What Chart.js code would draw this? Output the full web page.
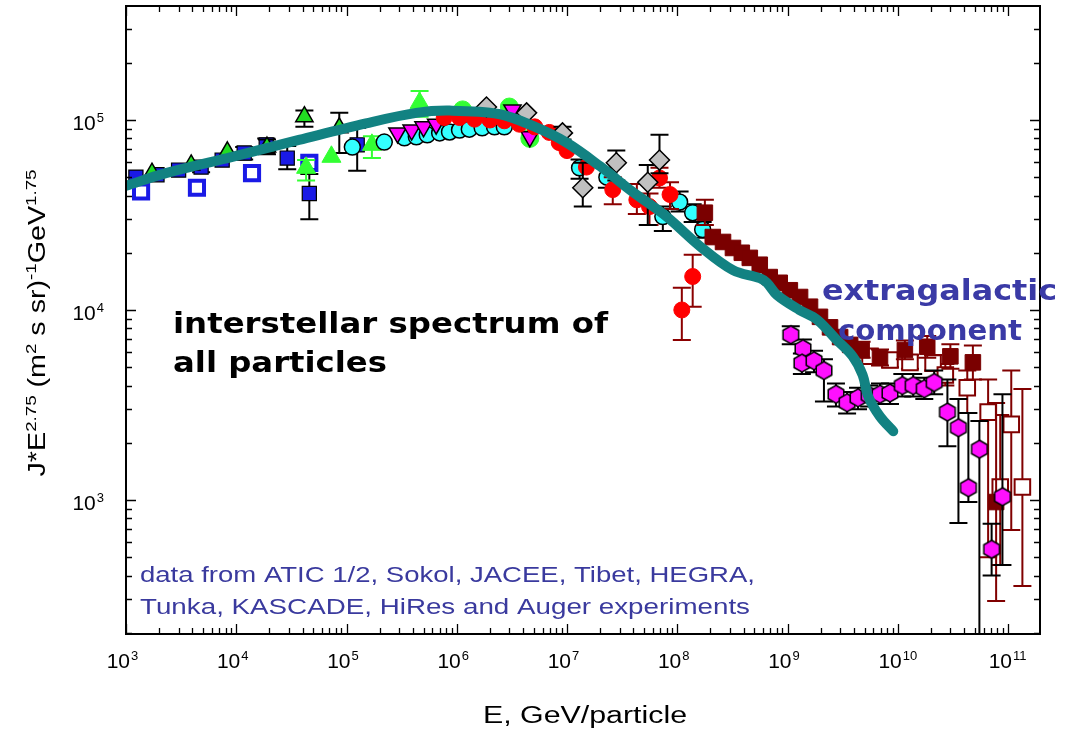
<!DOCTYPE html>
<html>
<head>
<meta charset="utf-8">
<script src="https://cdn.jsdelivr.net/npm/chart.js@4.4.0/dist/chart.umd.min.js"></script>
<style>body{margin:0;background:#fff}</style>
</head>
<body>
<canvas id="c" width="1077" height="731"></canvas>
<script>
/// axis ranges ///
const X_MIN = 1e3, X_MAX = 1.95e11, Y_MIN = 197, Y_MAX = 3.98e5
const xTickExp = [3, 4, 5, 6, 7, 8, 9, 10, 11]
const yTickExp = [3, 4, 5]

/// model curve (teal) ///
const modelE = [1e3, 2.3e3, 9.2e3, 3.7e4, 1.5e5, 4.3e5, 8.6e5, 2.4e6, 4.9e6, 9.9e6, 2.0e7, 3.9e7, 8.0e7, 1.6e8, 3.2e8, 5.6e8, 6.5e8, 8.0e8, 1.28e9, 1.85e9, 2.8e9, 3.9e9, 4.8e9, 5.4e9, 6.9e9, 9.1e9]
const modelJ = [4.5e4, 5.25e4, 6.4e4, 7.85e4, 9.6e4, 1.09e5, 1.12e5, 1.075e5, 9.3e4, 7.6e4, 5.7e4, 4.2e4, 3.1e4, 2.17e4, 1.62e4, 1.47e4, 1.39e4, 1.2e4, 1.0e4, 8.9e3, 6.95e3, 5.7e3, 4.55e3, 3.5e3, 2.75e3, 2.3e3]

/// ATIC filled blue squares ///
const aticE = [1.23e3, 1.91e3, 3.0e3, 4.8e3, 7.45e3, 1.18e4, 1.87e4, 2.9e4, 4.6e4, 1.25e5]
const aticJ = [5.0e4, 5.15e4, 5.45e4, 5.65e4, 6.15e4, 6.7e4, 7.4e4, 6.3e4, 4.1e4, 7.4e4]
const aticLo = [null, null, null, 5.3e4, null, 6.2e4, 6.7e4, 5.5e4, 3.0e4, 5.4e4]
const aticHi = [null, null, null, 6.0e4, null, 7.2e4, 8.0e4, 7.3e4, 5.2e4, 9.1e4]

/// ATIC open blue squares ///
const atic2E = [1.37e3, 4.4e3, 1.39e4, 4.6e4]
const atic2J = [4.2e4, 4.4e4, 5.25e4, 5.95e4]

/// Sokol (green, black edge) ///
const sokolE = [1.72e3, 3.9e3, 8.3e3, 1.9e4, 4.15e4, 8.6e4]
const sokolJ = [5.25e4, 5.8e4, 6.8e4, 7.2e4, 1.04e5, 9.1e4]
const sokolLo = [null, null, null, 6.6e4, 9.2e4, 6.7e4]
const sokolHi = [null, null, null, 7.9e4, 1.12e5, 1.09e5]

/// JACEE (light green) ///
const jaceeE = [4.3e4, 7.3e4, 1.7e5, 4.6e5]
const jaceeJ = [5.6e4, 6.4e4, 7.4e4, 1.23e5]
const jaceeLo = [4.8e4, null, 6.3e4, 1.04e5]
const jaceeHi = [6.15e4, null, 8.2e4, 1.42e5]

const greenE = [1.13e6, 3.0e6, 4.6e6]
const greenJ = [1.13e5, 1.17e5, 8.0e4]

/// Tibet (magenta down triangles) ///
const tibetE = [2.9e5, 3.9e5, 5.0e5, 6.5e5, 3.2e6, 4.6e6]
const tibetJ = [8.55e4, 8.85e4, 9.2e4, 9.5e4, 1.13e5, 8.15e4]

/// KASCADE (cyan) ///
const kascE = [1.13e5, 2.2e5, 3.35e5, 4.3e5, 5.4e5, 7.0e5, 8.6e5, 1.06e6, 1.3e6, 1.7e6, 2.2e6, 2.7e6, 1.3e7, 2.3e7, 7.4e7, 1.05e8, 1.38e8, 1.7e8]
const kascJ = [7.2e4, 7.65e4, 8.05e4, 8.15e4, 8.35e4, 8.55e4, 8.65e4, 8.85e4, 8.95e4, 9.1e4, 9.2e4, 9.2e4, 5.6e4, 5.0e4, 3.1e4, 3.7e4, 3.25e4, 2.65e4]
const kascLo = [null, null, null, null, null, null, null, null, null, null, null, null, 4.9e4, 4.4e4, 2.6e4, 3.3e4, 2.9e4, 2.4e4]
const kascHi = [null, null, null, null, null, null, null, null, null, null, null, null, 6.2e4, 5.6e4, 3.5e4, 4.2e4, 3.6e4, 2.9e4]

/// HEGRA / red ///
const hegraE = [7.7e5, 1.06e6, 1.45e6, 2.0e6, 2.7e6, 3.7e6, 5.1e6, 6.9e6, 8.5e6, 1.0e7, 1.5e7, 2.6e7, 4.3e7, 5.6e7, 6.9e7, 8.6e7, 1.1e8, 1.38e8]
const hegraJ = [1.03e5, 1.03e5, 1.01e5, 1.0e5, 9.9e4, 9.5e4, 9.2e4, 8.6e4, 7.6e4, 6.9e4, 5.65e4, 4.3e4, 3.8e4, 3.5e4, 4.95e4, 4.05e4, 1.0e4, 1.5e4]
const hegraLo = [null, null, null, null, null, null, null, null, null, null, null, 3.6e4, 3.2e4, 2.8e4, 4.4e4, 3.4e4, 6.95e3, 1.04e4]
const hegraHi = [null, null, null, null, null, null, null, null, null, null, null, 5.0e4, 4.6e4, 4.1e4, 5.6e4, 4.7e4, 1.31e4, 1.95e4]

/// Tunka (grey diamonds) ///
const tunkaE = [1.86e6, 4.3e6, 9.1e6, 1.39e7, 2.8e7, 5.4e7, 6.9e7]
const tunkaJ = [1.17e5, 1.09e5, 8.55e4, 4.4e4, 5.95e4, 4.7e4, 6.15e4]
const tunkaLo = [null, null, 7.9e4, 3.5e4, 4.8e4, 2.8e4, 5.25e4]
const tunkaHi = [null, null, 9.2e4, 5.95e4, 6.9e4, 5.8e4, 8.35e4]

/// dark red filled squares ///
const yakE = [1.78e8, 2.1e8, 2.6e8, 3.2e8, 3.85e8, 4.55e8, 5.6e8, 6.9e8, 8.5e8, 1.05e9, 1.3e9, 1.6e9, 1.97e9, 2.43e9, 3.0e9, 3.7e9, 4.7e9, 6.9e9, 1.16e10, 1.85e10, 3.0e10, 4.8e10, 7.8e10]
const yakJ = [3.25e4, 2.42e4, 2.28e4, 2.12e4, 2.0e4, 1.88e4, 1.73e4, 1.49e4, 1.39e4, 1.27e4, 1.17e4, 1.04e4, 9.2e3, 8.1e3, 7.2e3, 6.55e3, 6.15e3, 5.6e3, 6.15e3, 6.4e3, 5.7e3, 5.3e3, 975]
const yakLo = [2.8e4, null, null, null, null, null, null, null, null, null, null, null, null, null, null, null, 5.6e3, 5.1e3, 5.5e3, 5.6e3, 4.9e3, 4.3e3, 294]
const yakHi = [3.8e4, null, null, null, null, null, null, null, null, null, null, null, null, null, null, null, 6.8e3, 6.2e3, 6.9e3, 7.3e3, 6.6e3, 6.5e3, 3.24e3]

/// Auger (open dark red squares) ///
const augerE = [5.6e9, 8.5e9, 1.29e10, 2.09e10, 2.7e10, 4.27e10, 6.6e10, 1.07e11, 8.5e10, 1.35e11]
const augerJ = [5.7e3, 5.45e3, 5.3e3, 5.25e3, 4.55e3, 3.9e3, 2.9e3, 2.5e3, 1.17e3, 1.17e3]
const augerLo = [5.2e3, 5.0e3, 4.9e3, 4.8e3, 4.0e3, 2.87e3, 500, 695, 455, 352]
const augerHi = [6.2e3, 5.9e3, 5.8e3, 5.8e3, 5.2e3, 4.8e3, 4.3e3, 4.8e3, 2.8e3, 3.84e3]

/// HiRes (magenta hexagons) ///
const hiresE = [1.07e9, 1.38e9, 1.35e9, 1.74e9, 2.14e9, 2.75e9, 3.47e9, 4.36e9, 5.5e9, 6.9e9, 8.5e9, 1.1e10, 1.38e10, 1.74e10, 2.14e10, 2.82e10, 3.55e10, 4.37e10, 5.5e10, 7.1e10, 8.9e10]
const hiresJ = [7.4e3, 6.25e3, 5.25e3, 5.4e3, 4.8e3, 3.6e3, 3.25e3, 3.45e3, 3.55e3, 3.6e3, 3.65e3, 4.0e3, 4.0e3, 3.85e3, 4.15e3, 2.9e3, 2.4e3, 1.16e3, 1.85e3, 550, 1.04e3]
const hiresLo = [6.6e3, 5.5e3, 4.6e3, 4.7e3, 3.3e3, 3.1e3, 2.85e3, 3.0e3, 3.1e3, 3.2e3, 3.2e3, 3.5e3, 3.5e3, 3.4e3, 3.6e3, 1.92e3, 757, 975, 150, 400, 455]
const hiresHi = [8.2e3, 7.0e3, 5.9e3, 6.1e3, 5.5e3, 4.1e3, 3.7e3, 3.9e3, 4.0e3, 4.1e3, 4.1e3, 4.6e3, 4.6e3, 4.4e3, 4.8e3, 4.3e3, 3.4e3, 2.87e3, 2.6e3, 750, 3.6e3]

/// helpers ///
function pts(E, J) {
  return E.map((e, i) => ({x: e, y: J[i]}))
}

function hexagon(r, fill) {
  const c = document.createElement('canvas')
  c.width = 2 * r + 4; c.height = 2 * r + 4
  const g = c.getContext('2d')
  g.beginPath()
  for (let k = 0; k < 6; k++) {
    const a = -Math.PI / 2 + k * Math.PI / 3
    const px = r + 2 + r * Math.cos(a), py = r + 2 + r * Math.sin(a)
    if (k === 0) g.moveTo(px, py); else g.lineTo(px, py)
  }
  g.closePath()
  g.fillStyle = fill; g.fill()
  g.lineWidth = 1.5; g.strokeStyle = '#000'; g.stroke()
  return c
}

function series(label, E, J, style, lo, hi, errColor) {
  return Object.assign({
    label: label,
    data: pts(E, J),
    showLine: false,
    errLo: lo || null,
    errHi: hi || null,
    errColor: errColor || '#000'
  }, style)
}

/// error bars, drawn under each dataset's markers ///
const errorBars = {
  id: 'errorBars',
  beforeDatasetDraw(chart, args) {
    const ds = chart.data.datasets[args.index]
    if (!ds.errLo) return
    const ctx = chart.ctx, a = chart.chartArea, ys = chart.scales.y
    ctx.save()
    ctx.beginPath(); ctx.rect(a.left, a.top, a.width, a.height); ctx.clip()
    ctx.strokeStyle = ds.errColor; ctx.lineWidth = 2
    args.meta.data.forEach((el, i) => {
      const lo = ds.errLo[i], hi = ds.errHi[i]
      if (lo == null) return
      const y1 = ys.getPixelForValue(lo), y2 = ys.getPixelForValue(hi)
      ctx.beginPath()
      ctx.moveTo(el.x, y1); ctx.lineTo(el.x, y2)
      ctx.moveTo(el.x - 9, y1); ctx.lineTo(el.x + 9, y1)
      ctx.moveTo(el.x - 9, y2); ctx.lineTo(el.x + 9, y2)
      ctx.stroke()
    })
    ctx.restore()
  }
}

function drawPow(ctx, n, x, y, align, big, small) {
  ctx.font = big + 'px "Liberation Sans"'
  const w1 = ctx.measureText('10').width
  ctx.font = small + 'px "Liberation Sans"'
  const w2 = ctx.measureText(String(n)).width
  let left = align === 'right' ? x - w1 - w2 - 1 : x - w1 + 4
  ctx.font = big + 'px "Liberation Sans"'
  ctx.fillText('10', left, y)
  ctx.font = small + 'px "Liberation Sans"'
  ctx.fillText(String(n), left + w1 + 1, y - 8)
}

function fitText(ctx, txt, left, base, width, font, color) {
  ctx.save()
  ctx.font = font; ctx.fillStyle = color; ctx.textBaseline = 'alphabetic'
  const w = ctx.measureText(txt).width
  ctx.translate(left, base); ctx.scale(width / w, 1)
  ctx.fillText(txt, 0, 0)
  ctx.restore()
}

// rich text with superscripts, stretched to a given length
function richText(ctx, parts, width, big, small) {
  let total = 0
  parts.forEach(p => {
    ctx.font = (p.sup ? small : big) + 'px "Liberation Sans"'
    p.w = ctx.measureText(p.t).width
    total += p.w
  })
  ctx.save()
  ctx.scale(width / total, 1)
  let cx = -total / 2
  parts.forEach(p => {
    ctx.font = (p.sup ? small : big) + 'px "Liberation Sans"'
    ctx.fillText(p.t, cx, p.sup ? -9 : 0)
    cx += p.w
  })
  ctx.restore()
}

/// frame, inner ticks, labels, texts ///
const decoration = {
  id: 'decoration',
  afterDatasetsDraw(chart) {
    const ctx = chart.ctx, a = chart.chartArea, xs = chart.scales.x, ys = chart.scales.y
    ctx.save()
    ctx.strokeStyle = '#000'; ctx.lineWidth = 1.3
    ctx.beginPath()
    for (let n = 3; n <= 11; n++) for (let m = 1; m <= 9; m++) {
      const v = m * Math.pow(10, n)
      if (v < X_MIN || v > X_MAX) continue
      const px = Math.round(xs.getPixelForValue(v)) + 0.5
      const len = m === 1 ? 10 : 6
      ctx.moveTo(px, a.bottom); ctx.lineTo(px, a.bottom - len)
      ctx.moveTo(px, a.top); ctx.lineTo(px, a.top + len)
    }
    for (let n = 2; n <= 5; n++) for (let m = 1; m <= 9; m++) {
      const v = m * Math.pow(10, n)
      if (v < Y_MIN || v > Y_MAX) continue
      const py = Math.round(ys.getPixelForValue(v)) + 0.5
      const len = m === 1 ? 10 : 6
      ctx.moveTo(a.left, py); ctx.lineTo(a.left + len, py)
      ctx.moveTo(a.right, py); ctx.lineTo(a.right - len, py)
    }
    ctx.stroke()
    ctx.lineWidth = 2
    ctx.strokeRect(a.left, a.top, a.right - a.left, a.bottom - a.top)

    // tick labels
    ctx.fillStyle = '#000'; ctx.textBaseline = 'alphabetic'; ctx.textAlign = 'left'
    xTickExp.forEach(n => drawPow(ctx, n, xs.getPixelForValue(Math.pow(10, n)), a.bottom + 34, 'center', 21, 13))
    yTickExp.forEach(n => drawPow(ctx, n, a.left - 22, ys.getPixelForValue(Math.pow(10, n)) + 10, 'right', 21, 13))

    // axis titles
    fitText(ctx, 'E, GeV/particle', 483, 723, 204, '23px "Liberation Sans"', '#000')
    ctx.save()
    ctx.translate(45, 323); ctx.rotate(-Math.PI / 2)
    richText(ctx, [
      {t: 'J*E'}, {t: '2.75', sup: true}, {t: ' (m'}, {t: '2', sup: true},
      {t: ' s sr)'}, {t: '-1', sup: true}, {t: 'GeV'}, {t: '1.75', sup: true}
    ], 307, 23, 15)
    ctx.restore()

    // annotations
    fitText(ctx, 'interstellar spectrum of', 173, 333, 435, 'bold 28px "DejaVu Sans"', '#000')
    fitText(ctx, 'all particles', 173, 372, 214, 'bold 28px "DejaVu Sans"', '#000')
    fitText(ctx, 'extragalactic', 822, 300, 235, 'bold 28px "DejaVu Sans"', '#3a3aa6')
    fitText(ctx, 'component', 838, 340, 184, 'bold 28px "DejaVu Sans"', '#3a3aa6')
    fitText(ctx, 'data from ATIC 1/2, Sokol, JACEE, Tibet, HEGRA,', 140, 582, 615, '22px "Liberation Sans"', '#3a3a9e')
    fitText(ctx, 'Tunka, KASCADE, HiRes and Auger experiments', 140, 614, 610, '22px "Liberation Sans"', '#3a3a9e')
    ctx.restore()
  }
}

/// build chart ///
const datasets = [
  {
    label: 'model', data: pts(modelE, modelJ), showLine: true,
    borderColor: '#128282', borderWidth: 10, pointRadius: 0,
    borderCapStyle: 'round', borderJoinStyle: 'round', tension: 0.35
  },
  series('HiRes', hiresE, hiresJ, {pointStyle: hexagon(9, '#ff10ff')}, hiresLo, hiresHi, '#000'),
  series('Yakutsk', yakE, yakJ, {pointStyle: 'rect', pointRadius: 11, backgroundColor: '#7a0000', borderColor: '#7a0000', borderWidth: 1}, yakLo, yakHi, '#800000'),
  series('Auger', augerE, augerJ, {pointStyle: 'rect', pointRadius: 11, backgroundColor: '#fff', borderColor: '#800000', borderWidth: 2}, augerLo, augerHi, '#800000'),
  series('Tunka', tunkaE, tunkaJ, {pointStyle: 'rectRot', pointRadius: 10, backgroundColor: '#c0c0c0', borderColor: '#000', borderWidth: 1.5}, tunkaLo, tunkaHi, '#000'),
  series('HEGRA', hegraE, hegraJ, {pointStyle: 'circle', pointRadius: 8, backgroundColor: '#ff0000', borderColor: '#ff0000', borderWidth: 1}, hegraLo, hegraHi, '#8b0000'),
  series('Tibet', tibetE, tibetJ, {pointStyle: 'triangle', rotation: 180, pointRadius: 10, backgroundColor: '#ff00ff', borderColor: '#000', borderWidth: 1.5}),
  series('green', greenE, greenJ, {pointStyle: 'circle', pointRadius: 9, backgroundColor: '#33ff33', borderColor: '#33ff33', borderWidth: 1}),
  series('KASCADE', kascE, kascJ, {pointStyle: 'circle', pointRadius: 8, backgroundColor: '#33ffff', borderColor: '#000', borderWidth: 1.5}, kascLo, kascHi, '#000'),
  series('JACEE', jaceeE, jaceeJ, {pointStyle: 'triangle', pointRadius: 11, backgroundColor: '#33ff33', borderColor: '#33ff33', borderWidth: 1}, jaceeLo, jaceeHi, '#33ff33'),
  series('Sokol', sokolE, sokolJ, {pointStyle: 'triangle', pointRadius: 10, backgroundColor: '#22dd22', borderColor: '#000', borderWidth: 1.5}, sokolLo, sokolHi, '#000'),
  series('ATIC open', atic2E, atic2J, {pointStyle: 'rect', pointRadius: 10, backgroundColor: '#fff', borderColor: '#1a1ae6', borderWidth: 4}),
  series('ATIC', aticE, aticJ, {pointStyle: 'rect', pointRadius: 10, backgroundColor: '#1a1ae6', borderColor: '#000', borderWidth: 1.2}, aticLo, aticHi, '#000')
]

new Chart(document.getElementById('c'), {
  type: 'scatter',
  data: {datasets: datasets},
  options: {
    responsive: false,
    animation: false,
    layout: {autoPadding: false, padding: {left: 126, right: 37, top: 6, bottom: 97}},
    plugins: {legend: {display: false}, tooltip: {enabled: false}},
    scales: {
      x: {type: 'logarithmic', display: false, min: X_MIN, max: X_MAX},
      y: {type: 'logarithmic', display: false, min: Y_MIN, max: Y_MAX}
    }
  },
  plugins: [errorBars, decoration]
})
</script>
</body>
</html>
